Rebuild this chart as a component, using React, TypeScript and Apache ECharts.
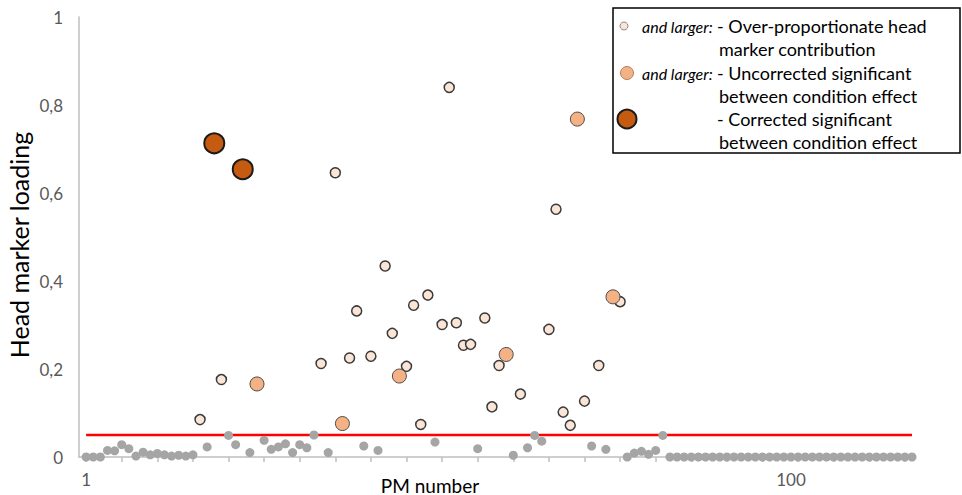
import React, { useEffect, useRef } from "react";
import * as echarts from "echarts";

// Head marker loading for each PM number (PM 1 .. PM 117)
const pmLoading: number[] = [
  0, 0, 0, 0.015, 0.014, 0.028, 0.019, 0.002, 0.011, 0.005,
  0.008, 0.005, 0.002, 0.004, 0.002, 0.005, 0.085, 0.023, 0.713, 0.176,
  0.049, 0.028, 0.654, 0.01, 0.166, 0.038, 0.0175, 0.023, 0.03, 0.01,
  0.028, 0.021, 0.05, 0.2125, 0.01, 0.646, 0.076, 0.225, 0.332, 0.025,
  0.229, 0.015, 0.434, 0.281, 0.184, 0.206, 0.345, 0.074, 0.368, 0.034,
  0.301, 0.84, 0.305, 0.254, 0.256, 0.019, 0.316, 0.114, 0.208, 0.233,
  0.004, 0.143, 0.021, 0.049, 0.036, 0.29, 0.563, 0.102, 0.072, 0.768,
  0.127, 0.025, 0.208, 0.0175, 0.364, 0.353, 0, 0.009, 0.013, 0.006,
  0.015, 0.049, 0, 0, 0, 0, 0, 0, 0, 0,
  0, 0, 0, 0, 0, 0, 0, 0, 0, 0,
  0, 0, 0, 0, 0, 0, 0, 0, 0, 0,
  0, 0, 0, 0, 0, 0, 0,
];

// PM numbers with a corrected significant between-condition effect
const correctedPM: number[] = [19, 23];
// PM numbers with an uncorrected significant between-condition effect
const uncorrectedPM: number[] = [25, 37, 45, 60, 70, 75];
// Over-proportionate contribution threshold
const threshold = 0.05;

const xLabelsShown: number[] = [1, 100];
const yTicks: number[] = [0, 0.2, 0.4, 0.6, 0.8, 1];

const FONT = "Lato, 'Noto Sans', sans-serif";

export default function App() {
  const ref = useRef<HTMLDivElement>(null);

  useEffect(() => {
    if (!ref.current) return;
    const chart = echarts.init(ref.current, undefined, { renderer: "svg" });

    const categories = ["", ...pmLoading.map((_, i) => String(i + 1))];
    const gray: number[][] = [];
    const pale: number[][] = [];
    const orange: number[][] = [];
    const brown: number[][] = [];
    pmLoading.forEach((v, i) => {
      const pm = i + 1;
      if (correctedPM.includes(pm)) brown.push([pm, v]);
      else if (uncorrectedPM.includes(pm)) orange.push([pm, v]);
      else if (v > threshold) pale.push([pm, v]);
      else gray.push([pm, v]);
    });

    const textX1 = 642;
    const textX2 = 717;
    const txt = (text: string, x: number, y: number, italic = false) => ({
      type: "text",
      x,
      y,
      z: 12,
      style: {
        text,
        fill: "#000000",
        fontSize: italic ? 16 : 18,
        fontFamily: FONT,
        fontStyle: italic ? "italic" : "normal",
        verticalAlign: "middle",
        align: "left",
      },
    });

    chart.setOption({
      animation: false,
      grid: { left: 79, right: 50, top: 17, bottom: 38, outerBoundsMode: "none", containLabel: false },
      xAxis: {
        type: "category",
        data: categories,
        boundaryGap: false,
        axisLine: { lineStyle: { color: "#BFBFBF", width: 1.5 } },
        axisTick: {
          show: true,
          length: 5,
          interval: (index: number) => index % 5 === 1,
          lineStyle: { color: "#BFBFBF", width: 1.5 },
        },
        axisLabel: {
          interval: (index: number) => xLabelsShown.includes(index),
          color: "#595959",
          fontSize: 17,
          fontFamily: FONT,
          margin: 14,
        },
        splitLine: { show: false },
      },
      yAxis: {
        type: "value",
        min: 0,
        max: 1,
        interval: 0.2,
        axisLine: { show: true, lineStyle: { color: "#BFBFBF", width: 1.5 } },
        axisTick: { show: false },
        axisLabel: {
          color: "#595959",
          fontSize: 17,
          fontFamily: FONT,
          margin: 16,
          formatter: (v: number) => {
            const r = Number(v.toFixed(1));
            return yTicks.includes(r) ? String(r).replace(".", ",") : "";
          },
        },
        splitLine: { show: false },
      },
      series: [
        {
          type: "line",
          data: [
            [1, threshold],
            [pmLoading.length, threshold],
          ],
          symbol: "none",
          lineStyle: { color: "#FF0000", width: 2.5 },
          z: 1,
          silent: true,
        },
        {
          type: "scatter",
          data: gray,
          symbolSize: 9,
          itemStyle: { color: "#A5A5A5", opacity: 1 },
          z: 2,
        },
        {
          type: "scatter",
          data: pale,
          symbolSize: 10,
          itemStyle: { color: "#FBE5D6", borderColor: "#3A3A3A", borderWidth: 1.5, opacity: 1 },
          z: 3,
        },
        {
          type: "scatter",
          data: orange,
          symbolSize: 14,
          itemStyle: { color: "#F4B183", borderColor: "#4A4A4A", borderWidth: 1, opacity: 1 },
          z: 4,
        },
        {
          type: "scatter",
          data: brown,
          symbolSize: 20,
          itemStyle: { color: "#C55A11", borderColor: "#1A1A1A", borderWidth: 2, opacity: 1 },
          z: 5,
        },
      ],
      graphic: [
        {
          type: "text",
          x: 430,
          y: 485,
          z: 12,
          style: {
            text: "PM number",
            fill: "#000000",
            fontSize: 19,
            fontFamily: FONT,
            align: "center",
            verticalAlign: "middle",
          },
        },
        {
          type: "text",
          x: 19,
          y: 245,
          rotation: Math.PI / 2,
          z: 12,
          style: {
            text: "Head marker loading",
            fill: "#000000",
            fontSize: 25,
            fontFamily: FONT,
            align: "center",
            verticalAlign: "middle",
          },
        },
        {
          type: "rect",
          z: 10,
          shape: { x: 613, y: 8, width: 347, height: 145 },
          style: { fill: "#FFFFFF", stroke: "#000000", lineWidth: 1.5 },
        },
        {
          type: "circle",
          z: 11,
          shape: { cx: 624, cy: 26, r: 4 },
          style: { fill: "#FBE5D6", stroke: "#8A8A8A", lineWidth: 1 },
        },
        {
          type: "circle",
          z: 11,
          shape: { cx: 627, cy: 73, r: 6.5 },
          style: { fill: "#F4B183", stroke: "#B08060", lineWidth: 1 },
        },
        {
          type: "circle",
          z: 11,
          shape: { cx: 627, cy: 119, r: 9.5 },
          style: { fill: "#C55A11", stroke: "#1A1A1A", lineWidth: 2 },
        },
        txt("and larger:", textX1, 26, true),
        txt("- Over-proportionate head", textX2, 26),
        txt("marker contribution", textX2 + 2, 49),
        txt("and larger:", textX1, 73, true),
        txt("- Uncorrected significant", textX2, 73),
        txt("between condition effect", textX2 + 2, 96),
        txt("- Corrected significant", textX2, 119),
        txt("between condition effect", textX2 + 2, 142),
      ],
    });

    return () => chart.dispose();
  }, []);

  return (
    <div
      ref={ref}
      style={{ position: "fixed", left: 0, top: 0, width: 962, height: 495, background: "#FFFFFF" }}
    />
  );
}
